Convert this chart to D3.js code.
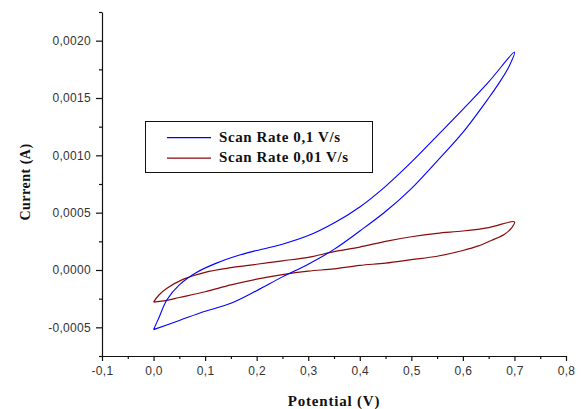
<html>
<head>
<script src="https://d3js.org/d3.v7.min.js"></script>
<style>
body { margin: 0; background: #fff; }
svg { display: block; }
.tick text { font-family: "Liberation Sans", Arial, sans-serif; font-size: 12px; fill: #333; letter-spacing: 0.3px; }
.title { font-family: "Liberation Serif", "Times New Roman", serif; font-weight: bold; font-size: 15px; fill: #111; letter-spacing: 0.8px; }
.leg { font-family: "Liberation Serif", "Times New Roman", serif; font-weight: bold; font-size: 15px; fill: #111; letter-spacing: 0.6px; }
</style>
</head>
<body>
<svg id="chart" width="583" height="409"></svg>
<script>
// scan rate 0,1 V/s : one closed loop (upper sweep then lower sweep)
var blueV = [0.0, 0.01, 0.026, 0.05, 0.084, 0.122, 0.167, 0.2, 0.25, 0.3, 0.35, 0.4, 0.45, 0.5, 0.55, 0.6, 0.65, 0.7,
             0.69, 0.67, 0.65, 0.6, 0.55, 0.5, 0.45, 0.4, 0.35, 0.3, 0.25, 0.2, 0.15, 0.1, 0.05, 0.0];
var blueI = [-0.00052, -0.00042, -0.00026, -0.00013, -0.00002, 0.00006, 0.00013, 0.00017, 0.000225, 0.0003, 0.00041, 0.00055, 0.00073, 0.00094, 0.00117, 0.0014, 0.00164, 0.0019,
             0.00178, 0.00163, 0.0015, 0.0012, 0.00095, 0.00071, 0.00051, 0.00034, 0.00018, 0.00005, -0.00006, -0.00018, -0.00029, -0.00036, -0.00044, -0.00052];

// scan rate 0,01 V/s
var redV = [0.0, 0.01, 0.026, 0.058, 0.1, 0.15, 0.2, 0.25, 0.3, 0.35, 0.4, 0.45, 0.5, 0.55, 0.6, 0.65, 0.7,
            0.695, 0.68, 0.656, 0.63, 0.6, 0.55, 0.5, 0.45, 0.4, 0.35, 0.3, 0.25, 0.2, 0.15, 0.1, 0.05, 0.02, 0.0];
var redI = [-0.00028, -0.00022, -0.00016, -0.00008, -0.00002, 0.00002, 0.00005, 0.00008, 0.00011, 0.00016, 0.0002, 0.00025, 0.00029, 0.00032, 0.00034, 0.00037, 0.00042,
            0.00037, 0.00031, 0.00026, 0.00021, 0.00017, 0.00012, 0.00009, 0.00006, 0.00004, 0.00001, -0.00001, -0.00004, -0.00008, -0.00013, -0.00019, -0.00024, -0.00027, -0.00028];

var xTicks = [-0.1, 0.0, 0.1, 0.2, 0.3, 0.4, 0.5, 0.6, 0.7, 0.8];
var yTicks = [-0.0005, 0.0, 0.0005, 0.0010, 0.0015, 0.0020];
var seriesNames = ["Scan Rate 0,1 V/s", "Scan Rate 0,01 V/s"];
var seriesColors = ["#0000ff", "#8b0a0a"];

var svg = d3.select("#chart");
var x = d3.scaleLinear().domain([-0.1, 0.8]).range([102, 566]);
var y = d3.scaleLinear().domain([-0.00075, 0.00225]).range([356, 12]);

var fmtX = function(d){ return d3.format(".1f")(d).replace(".", ",").replace("−", "-"); };
var fmtY = function(d){ return d3.format(".4f")(d).replace(".", ",").replace("−", "-"); };

// minor ticks (between majors)
var xMinor = d3.range(-0.05, 0.8, 0.1);
var yMinor = d3.range(-0.00075, 0.0023, 0.0005);

svg.append("g").attr("transform", "translate(0,356)")
  .call(d3.axisBottom(x).tickValues(xMinor).tickSize(3).tickFormat(""))
  .call(function(g){ g.select(".domain").remove(); });
svg.append("g").attr("transform", "translate(102,0)")
  .call(d3.axisLeft(y).tickValues(yMinor).tickSize(3).tickFormat(""))
  .call(function(g){ g.select(".domain").remove(); });

var xAxis = svg.append("g").attr("transform", "translate(0,356)")
  .call(d3.axisBottom(x).tickValues(xTicks).tickSize(5).tickSizeOuter(0).tickPadding(5).tickFormat(fmtX));
var yAxis = svg.append("g").attr("transform", "translate(102,0)")
  .call(d3.axisLeft(y).tickValues(yTicks).tickSize(6).tickSizeOuter(0).tickPadding(5).tickFormat(fmtY));
svg.selectAll(".domain, .tick line").attr("stroke", "#111").attr("stroke-width", 1.2);

var line = d3.line()
  .x(function(d){ return x(d[0]); })
  .y(function(d){ return y(d[1]); })
  .curve(d3.curveCatmullRom.alpha(0.5));

svg.append("path").datum(d3.zip(redV, redI))
  .attr("d", line).attr("fill", "none").attr("stroke", seriesColors[1]).attr("stroke-width", 1.2);
svg.append("path").datum(d3.zip(blueV, blueI))
  .attr("d", line).attr("fill", "none").attr("stroke", seriesColors[0]).attr("stroke-width", 1.1);

// legend
var leg = svg.append("g");
leg.append("rect").attr("x", 145.5).attr("y", 121.5).attr("width", 227).attr("height", 51)
  .attr("fill", "#fff").attr("stroke", "#111").attr("stroke-width", 1);
seriesNames.forEach(function(name, i){
  var yy = 137.7 + i * 20.5;
  leg.append("line").attr("x1", 167).attr("x2", 211).attr("y1", yy).attr("y2", yy)
    .attr("stroke", seriesColors[i]).attr("stroke-width", 1.2);
  leg.append("text").attr("class", "leg").attr("x", 219).attr("y", yy + 4.2).text(name);
});

// axis titles
svg.append("text").attr("class", "title").attr("x", 334).attr("y", 405.5)
  .attr("text-anchor", "middle").text("Potential (V)");
svg.append("text").attr("class", "title")
  .attr("transform", "translate(30,182) rotate(-90)")
  .style("font-size", "14px").style("letter-spacing", "0.5px")
  .attr("text-anchor", "middle").text("Current (A)");
</script>
</body>
</html>
